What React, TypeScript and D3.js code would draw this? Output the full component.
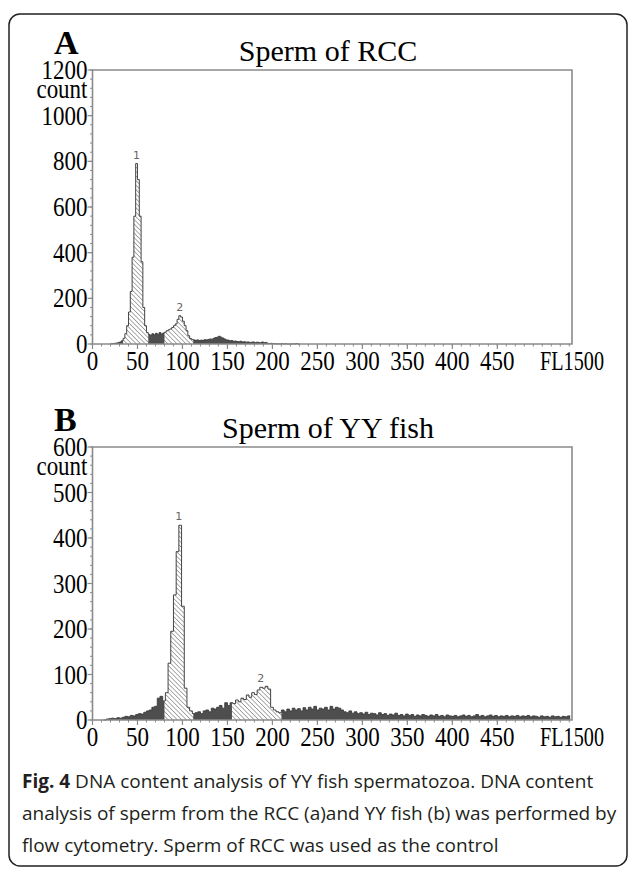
import React from 'react';
import * as d3 from 'd3';

// histogram A: Sperm of RCC, FL1 channels from 20, 2 channels per bin
const A_START = 20;
const A_BIN = 2;
const A_COUNTS = [
  1, 2, 3, 4, 6, 9, 14, 25, 45, 80, 140, 230, 380, 560, 790, 720, 560, 360, 160, 80,
  50, 42, 38, 45, 40, 47, 42, 50, 44, 48, 52, 58, 62, 66, 72, 80, 88, 108, 124, 118,
  100, 80, 58, 36, 24, 20, 18, 16, 18, 15, 17, 16, 19, 18, 20, 22, 21, 25, 28, 30,
  34, 30, 26, 22, 18, 17, 14, 15, 12, 13, 11, 10, 12, 9, 10, 8, 9, 7, 8, 9,
  6, 8, 7, 5, 9, 6, 7, 3, 2, 3, 1, 2, 0, 1, 0, 2, 0, 1, 0, 0,
  0, 1, 0, 2, 0,
];
const A_HATCH = [[34, 62], [80, 112]];
const A_PEAKS = [{ label: '1', ch: 49 }, { label: '2', ch: 97 }];
const A_YTICKS = [0, 200, 400, 600, 800, 1000, 1200];

// histogram B: Sperm of YY fish, FL1 channels from 12, 3 channels per bin
const B_START = 12;
const B_BIN = 3;
const B_COUNTS = [
  0, 2, 3, 4, 3, 5, 4, 6, 8, 7, 10, 9, 12, 14, 13, 17, 20, 22, 28, 30,
  48, 52, 42, 60, 125, 195, 275, 370, 428, 250, 70, 28, 20, 14, 16, 18, 14, 20, 22, 18,
  26, 24, 28, 32, 26, 38, 32, 38, 36, 44, 40, 48, 45, 55, 50, 60, 56, 66, 72, 70,
  74, 68, 28, 22, 18, 16, 22, 18, 24, 20, 26, 22, 25, 20, 27, 22, 28, 24, 30, 22,
  26, 24, 28, 22, 30, 24, 28, 26, 22, 18, 16, 20, 15, 18, 14, 16, 13, 17, 12, 15,
  14, 11, 16, 12, 14, 10, 13, 11, 15, 10, 12, 9, 13, 10, 12, 8, 11, 9, 12, 10,
  8, 11, 9, 12, 8, 10, 7, 11, 9, 8, 10, 7, 9, 11, 8, 10, 7, 9, 12, 8,
  10, 7, 9, 11, 8, 10, 7, 9, 8, 10, 7, 9, 8, 10, 7, 9, 8, 10, 7, 9,
  8, 6, 9, 7, 8, 6, 9, 7, 8, 6, 8, 7, 9,
];
const B_HATCH = [[80, 112], [155, 210]];
const B_PEAKS = [{ label: '1', ch: 96 }, { label: '2', ch: 187 }];
const B_YTICKS = [0, 100, 200, 300, 400, 500, 600];

const X_TICKS = [0, 50, 100, 150, 200, 250, 300, 350, 400, 450];
const X_MAX = 533;

const SERIF = '"Liberation Serif", "Times New Roman", serif';
const AXIS = '#8a8a8a';
const DARK = '#4e4e4e';

// serif label, a bit taller than wide like the scanned figure
function Label({ x, y, anchor = 'start', size = 23, children, ...rest }) {
  return (
    <text transform={`translate(${x},${y}) scale(1,1.18)`} textAnchor={anchor}
      fontFamily={SERIF} fontSize={size} {...rest}>{children}</text>
  );
}

function Panel({ id, letter, title, counts, start, bin, ticks, minorStep, hatch, peaks, top, bottom }) {
  const left = 92.5, right = 572;
  const yMax = ticks[ticks.length - 1];
  const x = d3.scaleLinear().domain([0, X_MAX]).range([left, right]);
  const y = d3.scaleLinear().domain([0, yMax]).range([bottom, top]);

  const pts = counts.map((c, i) => ({ ch: start + i * bin, c }));
  pts.push({ ch: start + counts.length * bin, c: counts[counts.length - 1] });

  const area = d3.area().curve(d3.curveStepAfter)
    .x(d => x(d.ch)).y0(y(0)).y1(d => y(d.c));
  const line = d3.line().curve(d3.curveStepAfter)
    .x(d => x(d.ch)).y(d => y(d.c));

  const yMinor = d3.range(0, yMax + 0.1, minorStep);
  const xMinor = d3.range(0, X_MAX, 10);
  const peakVal = ch => {
    const i = Math.floor((ch - start) / bin);
    return d3.max(counts.slice(Math.max(0, i - 1), i + 2));
  };

  return (
    <g>
      <defs>
        <pattern id={'hatch' + id} width="3.2" height="3.2" patternUnits="userSpaceOnUse" patternTransform="rotate(-45)">
          <rect width="3.2" height="3.2" fill="#fff" />
          <line x1="0" y1="0" x2="0" y2="3.2" stroke="#5a5a5a" strokeWidth="1" />
        </pattern>
        {hatch.map((h, i) => (
          <clipPath key={i} id={`clip${id}${i}`}>
            <rect x={x(h[0])} y={top} width={x(h[1]) - x(h[0])} height={bottom - top} />
          </clipPath>
        ))}
      </defs>

      <text x={54} y={top - 16} fontFamily={SERIF} fontWeight="bold" fontSize={34}>{letter}</text>
      <text x={328} y={top - 9} fontFamily={SERIF} fontSize={30} textAnchor="middle">{title}</text>

      {/* histogram */}
      <path d={area(pts)} fill={DARK} />
      {hatch.map((h, i) => (
        <path key={i} d={area(pts)} fill={`url(#hatch${id})`} clipPath={`url(#clip${id}${i})`} />
      ))}
      <path d={line(pts)} fill="none" stroke="#3a3a3a" strokeWidth={0.9} />

      {peaks.map(p => (
        <text key={p.label} x={x(p.ch)} y={y(peakVal(p.ch)) - 5} fontSize={11}
          fontFamily="'DejaVu Sans', sans-serif" fill="#666" textAnchor="middle">{p.label}</text>
      ))}

      {/* frame */}
      <path d={`M${left},${bottom}V${top}H${right}V${bottom}H${left}`} fill="none" stroke={AXIS} strokeWidth={1.6} />

      {yMinor.map(v => (
        <line key={'ym' + v} x1={left - 2.5} x2={left} y1={y(v)} y2={y(v)} stroke={AXIS} strokeWidth={1} />
      ))}
      {ticks.map(v => (
        <g key={'y' + v}>
          <line x1={left - 5} x2={left} y1={y(v)} y2={y(v)} stroke={AXIS} strokeWidth={1.2} />
          <Label x={left - 5} y={y(v) + 9} anchor="end">{v}</Label>
        </g>
      ))}
      <Label x={left - 5} y={top + 28} anchor="end">count</Label>

      {xMinor.map(v => (
        <line key={'xm' + v} x1={x(v)} x2={x(v)} y1={bottom} y2={bottom + 2.5} stroke={AXIS} strokeWidth={1} />
      ))}
      {X_TICKS.map(v => (
        <g key={'x' + v}>
          <line x1={x(v)} x2={x(v)} y1={bottom} y2={bottom + 5} stroke={AXIS} strokeWidth={1.2} />
          <Label x={x(v)} y={bottom + 26} anchor="middle">{v}</Label>
        </g>
      ))}
      <Label x={540} y={bottom + 26} textLength={64} lengthAdjust="spacingAndGlyphs">FL1500</Label>
    </g>
  );
}

export default function App() {
  const cap = { fontFamily: '"Open Sans", "Noto Sans", sans-serif', fontSize: 19, fill: '#231f20' };
  return (
    <svg width={629} height={870} style={{ position: 'absolute', left: 0, top: 0, background: '#fff' }}>
      <rect x={9} y={14} width={618} height={852} rx={11} fill="none" stroke="#222" strokeWidth={1.5} />
      <Panel id="A" letter="A" title="Sperm of RCC" counts={A_COUNTS} start={A_START} bin={A_BIN}
        ticks={A_YTICKS} minorStep={40} hatch={A_HATCH} peaks={A_PEAKS} top={70} bottom={344} />
      <Panel id="B" letter="B" title="Sperm of YY fish" counts={B_COUNTS} start={B_START} bin={B_BIN}
        ticks={B_YTICKS} minorStep={20} hatch={B_HATCH} peaks={B_PEAKS} top={447} bottom={720} />
      <text x={22} y={788} {...cap}><tspan fontWeight="bold">Fig. 4</tspan> DNA content analysis of YY fish spermatozoa. DNA content</text>
      <text x={22} y={820} {...cap}>analysis of sperm from the RCC (a)and YY fish (b) was performed by</text>
      <text x={22} y={852} {...cap}>flow cytometry. Sperm of RCC was used as the control</text>
    </svg>
  );
}
